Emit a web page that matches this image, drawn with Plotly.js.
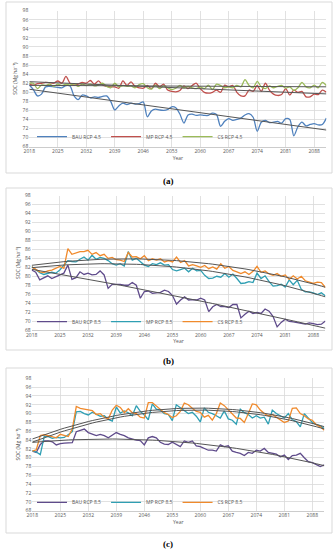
<!DOCTYPE html>
<html><head><meta charset="utf-8">
<script src="https://cdn.plot.ly/plotly-3.0.1.min.js"></script>
<style>html,body{margin:0;padding:0;background:#fff;}#chart{width:336px;height:550px;}</style>
</head><body><div id="chart"></div>
<script>
var years = [];
for (var y = 2018; y <= 2091; y++) years.push(y);
var xTicks = [2018, 2025, 2032, 2039, 2046, 2053, 2060, 2067, 2074, 2081, 2088];

// (a) RCP 4.5
var bau45 = [81.6,80.6,79.2,79.6,81.2,81.3,81.2,81.1,81.0,81.5,81.4,79.2,78.4,79.4,79.2,78.8,79.0,78.9,79.1,79.2,78.0,76.1,77.0,77.6,77.3,77.6,77.4,77.5,77.9,74.6,75.9,76.3,76.1,76.0,76.2,76.8,76.6,75.2,73.2,75.0,75.2,74.9,75.0,74.9,74.9,75.4,75.1,72.5,73.6,74.2,73.8,74.0,74.3,75.0,75.3,74.5,71.4,73.4,73.8,73.3,73.4,73.6,73.2,74.2,74.0,70.4,72.4,73.4,72.6,72.9,73.1,72.8,72.9,74.3];
var mp45 = [81.8,81.6,81.9,82.0,82.2,82.1,82.0,82.5,82.0,83.5,82.0,81.6,81.8,82.2,82.0,82.6,81.8,82.5,81.6,81.3,81.2,81.2,80.9,82.5,81.5,82.3,81.3,81.0,80.9,81.5,80.8,82.0,81.2,81.8,80.5,80.2,80.1,80.4,81.4,80.8,81.5,82.0,80.8,80.0,79.8,80.0,80.5,80.0,81.6,81.2,81.5,80.0,79.2,79.2,80.5,80.2,81.5,80.2,82.0,80.5,79.6,79.3,79.5,80.8,79.4,80.5,80.0,80.2,79.0,79.0,79.6,79.5,80.5,80.0];
var cs45 = [82.0,82.0,80.8,81.6,81.5,81.8,81.3,81.8,81.5,81.8,81.6,81.9,81.3,81.8,81.5,81.8,81.4,81.6,82.0,81.3,81.0,82.0,81.2,81.5,81.3,81.4,81.0,81.7,81.9,81.0,80.7,81.6,80.8,81.4,81.0,80.6,80.9,81.5,81.0,81.3,81.0,80.8,81.2,80.8,81.6,80.6,81.8,81.5,81.0,81.2,81.0,81.5,81.2,82.8,81.5,81.0,82.4,81.2,80.8,81.4,81.0,81.3,81.5,80.9,81.2,80.4,81.0,82.2,81.2,81.0,81.6,81.0,82.2,81.5];

// (b) RCP 8.5
var bau85b = [81.4,80.9,79.2,79.7,80.1,79.5,79.9,80.4,80.7,82.5,79.3,79.7,81.0,80.4,80.7,80.3,80.4,81.2,80.3,77.3,78.2,78.2,78.2,78.0,78.0,78.6,78.0,75.1,76.6,76.7,76.2,76.3,76.4,76.9,76.6,75.7,73.8,74.7,75.4,74.7,74.8,74.7,75.1,74.7,72.1,73.2,73.7,73.2,73.2,73.0,73.7,73.7,70.7,71.5,72.2,71.7,71.9,71.7,72.7,72.2,71.0,68.7,69.7,70.4,69.9,69.8,69.7,69.5,69.3,69.6,69.4,69.2,69.3,70.0];
var mp85b = [82.2,81.5,80.8,80.4,80.6,80.9,80.7,81.4,82.5,83.5,83.3,83.2,83.8,84.3,83.6,84.7,83.8,84.2,84.0,83.5,82.8,82.5,82.8,82.3,85.5,83.6,84.0,83.2,82.5,82.2,82.8,82.6,83.0,82.5,82.6,81.5,81.2,81.5,81.8,81.0,81.8,81.2,81.3,80.2,79.5,79.6,80.0,79.8,80.6,79.8,80.5,79.5,78.4,78.5,78.8,78.6,80.7,79.5,80.1,78.8,77.8,77.9,78.2,77.6,79.2,78.1,79.1,77.1,76.5,76.5,76.3,75.9,76.3,75.6];
var cs85b = [82.1,81.5,81.0,80.8,81.2,81.4,81.8,82.2,81.8,86.2,84.9,85.2,85.5,85.5,85.8,84.9,85.3,84.6,84.9,84.0,84.2,83.7,83.6,83.3,85.3,84.3,84.4,83.9,84.6,83.5,83.9,83.6,83.9,83.2,83.5,83.2,84.3,83.1,83.5,82.3,82.6,82.3,82.0,82.4,81.7,82.1,81.6,82.8,81.8,82.2,81.3,81.0,80.6,81.0,80.4,81.1,82.2,80.9,81.2,80.5,80.2,80.6,80.0,80.3,79.3,80.1,79.4,80.0,79.0,78.7,78.4,78.7,78.6,77.5];

// (c) RCP 8.5
var bau85c = [81.5,81.2,83.0,83.8,83.8,83.6,82.9,83.2,83.3,83.3,83.4,85.9,86.2,86.5,85.7,85.4,85.0,85.3,85.0,84.5,85.1,85.7,85.3,85.0,84.5,84.2,84.0,83.9,82.9,84.5,84.8,84.5,83.5,83.1,83.0,83.5,82.9,82.5,83.8,83.5,83.8,82.7,82.5,82.1,81.7,81.7,81.5,82.9,82.5,82.7,81.5,81.2,81.0,80.5,81.2,81.0,81.7,81.5,82.1,81.2,81.0,80.8,80.2,80.6,79.6,80.5,80.6,81.0,80.0,79.1,78.9,78.5,78.0,78.4];
var mp85c = [81.6,81.3,80.7,84.9,84.8,84.4,84.6,84.5,84.6,85.2,85.9,90.4,90.5,90.0,89.7,90.3,89.8,89.4,89.5,88.7,88.3,91.5,90.1,90.6,90.2,89.5,91.8,90.5,89.7,88.6,92.2,91.0,90.8,90.0,89.8,88.4,92.0,91.3,90.8,90.0,90.3,89.4,88.1,91.3,90.3,90.0,89.5,89.0,90.6,88.8,88.5,87.6,91.0,90.2,89.8,89.0,89.5,89.0,89.2,87.6,90.8,90.0,89.5,89.0,90.0,88.6,88.2,87.0,90.0,89.0,88.0,87.5,87.2,86.6];
var cs85c = [81.5,81.8,85.0,85.2,85.0,84.8,84.5,85.3,85.0,84.8,86.5,91.6,91.2,91.0,90.8,90.7,89.8,90.0,89.2,88.8,90.8,91.9,91.4,90.2,91.1,90.2,90.0,89.2,89.0,92.5,92.5,91.8,91.0,90.2,89.8,89.1,89.5,90.5,92.4,92.0,91.2,90.5,90.3,89.2,89.6,88.5,90.0,92.4,91.8,90.8,90.0,89.0,88.9,88.0,90.0,92.2,92.0,90.8,90.0,89.5,89.8,89.2,88.6,88.0,88.3,91.2,91.3,90.0,89.5,88.8,88.5,87.5,87.0,86.2];

var namesA = ["BAU RCP 4.5", "MP RCP 4.5", "CS RCP 4.5"];
var namesB = ["BAU RCP 8.5", "MP RCP 8.5", "CS RCP 8.5"];
var colorsA = ["#4f81bd", "#c0504d", "#9bbb59"];
var colorsB = ["#5f4b8b", "#2f9fb3", "#f08a2c"];

// least-squares polynomial trend (like a spreadsheet trendline)
function polyfit(xs, ys, deg) {
  var n = deg + 1, x0 = xs[0];
  var A = [], b = [];
  for (var i = 0; i < n; i++) { A.push(new Array(n).fill(0)); b.push(0); }
  for (var k = 0; k < xs.length; k++) {
    var t = xs[k] - x0;
    for (var i = 0; i < n; i++) {
      b[i] += ys[k] * Math.pow(t, i);
      for (var j = 0; j < n; j++) A[i][j] += Math.pow(t, i + j);
    }
  }
  for (var c = 0; c < n; c++) {
    var p = c;
    for (var r = c + 1; r < n; r++) if (Math.abs(A[r][c]) > Math.abs(A[p][c])) p = r;
    var tmp = A[c]; A[c] = A[p]; A[p] = tmp; var tb = b[c]; b[c] = b[p]; b[p] = tb;
    for (var r = c + 1; r < n; r++) {
      var f = A[r][c] / A[c][c];
      for (var j = c; j < n; j++) A[r][j] -= f * A[c][j];
      b[r] -= f * b[c];
    }
  }
  var coef = new Array(n).fill(0);
  for (var i = n - 1; i >= 0; i--) {
    var s = b[i];
    for (var j = i + 1; j < n; j++) s -= A[i][j] * coef[j];
    coef[i] = s / A[i][i];
  }
  return xs.map(function (x) {
    var t = x - x0, v = 0;
    for (var i = 0; i < n; i++) v += coef[i] * Math.pow(t, i);
    return v;
  });
}

var traces = [];
function addPanel(series, names, colors, xa, ya, legendId, shape, deg) {
  series.forEach(function (s, i) {
    traces.push({x: years, y: s, type: 'scatter', mode: 'lines', name: names[i],
      xaxis: xa, yaxis: ya, legend: legendId,
      line: {color: colors[i], width: 1.3, shape: shape, smoothing: 0.8}});
  });
  series.forEach(function (s) {
    traces.push({x: years, y: polyfit(years, s, deg), type: 'scatter', mode: 'lines',
      xaxis: xa, yaxis: ya, showlegend: false, hoverinfo: 'skip',
      line: {color: '#555555', width: 1}});
  });
}
addPanel([bau45, mp45, cs45], namesA, colorsA, 'x', 'y', 'legend', 'spline', 1);
addPanel([bau85b, mp85b, cs85b], namesB, colorsB, 'x2', 'y2', 'legend2', 'linear', 2);
addPanel([bau85c, mp85c, cs85c], namesB, colorsB, 'x3', 'y3', 'legend3', 'linear', 2);

var FAM = 'Open Sans, Arial, sans-serif';
var tickFont = {family: FAM, size: 5, color: '#595959'};
function xAxis(dom, anchor) {
  return {domain: dom, anchor: anchor, range: [2018, 2091], tickvals: xTicks, ticktext: xTicks.map(String),
    showgrid: true, gridcolor: '#d9d9d9', gridwidth: 0.8, zeroline: false,
    showline: true, linecolor: '#bfbfbf', linewidth: 0.8, ticks: '', tickfont: tickFont,
    title: {text: 'Year', font: {family: FAM, size: 5, color: '#595959'}, standoff: 2}};
}
function yAxis(dom, anchor) {
  return {domain: dom, anchor: anchor, range: [68, 98], dtick: 2, tick0: 68,
    showgrid: true, gridcolor: '#d9d9d9', gridwidth: 0.8, zeroline: false,
    showline: false, ticks: '', tickfont: tickFont,
    title: {text: 'SOC (Mg ha\u207B\u00B9)', font: {family: FAM, size: 5, color: '#404040'}, standoff: 4}};
}
var legFont = {family: FAM, size: 5, color: '#595959'};
function leg(ypx) {
  return {orientation: 'h', x: 32 / 336, xanchor: 'left', y: 1 - ypx / 550, yanchor: 'middle',
    bgcolor: 'rgba(0,0,0,0)', font: legFont, itemwidth: 30, tracegroupgap: 0};
}
function box(top, bottom) {
  return {type: 'rect', xref: 'paper', yref: 'paper', x0: 6 / 336, x1: 332 / 336,
    y0: 1 - bottom / 550, y1: 1 - top / 550, line: {color: '#d9d9d9', width: 1}};
}
function lab(t, ypx) {
  return {text: t, xref: 'paper', yref: 'paper', x: 0.5, y: 1 - ypx / 550, showarrow: false,
    xanchor: 'center', yanchor: 'middle', font: {family: 'Liberation Serif, serif', size: 9, color: '#000', weight: 'bold'}};
}

var layout = {
  width: 336, height: 550, margin: {l: 0, r: 0, t: 0, b: 0},
  paper_bgcolor: '#ffffff', plot_bgcolor: '#ffffff', showlegend: true,
  xaxis: xAxis([0.0872, 0.9714], 'y'), yaxis: yAxis([0.7333, 0.9805], 'x'),
  xaxis2: xAxis([0.0943, 0.9685], 'y2'), yaxis2: yAxis([0.4, 0.6442], 'x2'),
  xaxis3: xAxis([0.0961, 0.9652], 'y3'), yaxis3: yAxis([0.0715, 0.3122], 'x3'),
  legend: leg(136.7), legend2: leg(321.7), legend3: leg(502.3),
  shapes: [box(2, 173), box(188, 350), box(368, 533)],
  annotations: [lab('(a)', 181), lab('(b)', 361), lab('(c)', 544)]
};
Plotly.newPlot('chart', traces, layout, {displayModeBar: false, staticPlot: true});
</script></body></html>
